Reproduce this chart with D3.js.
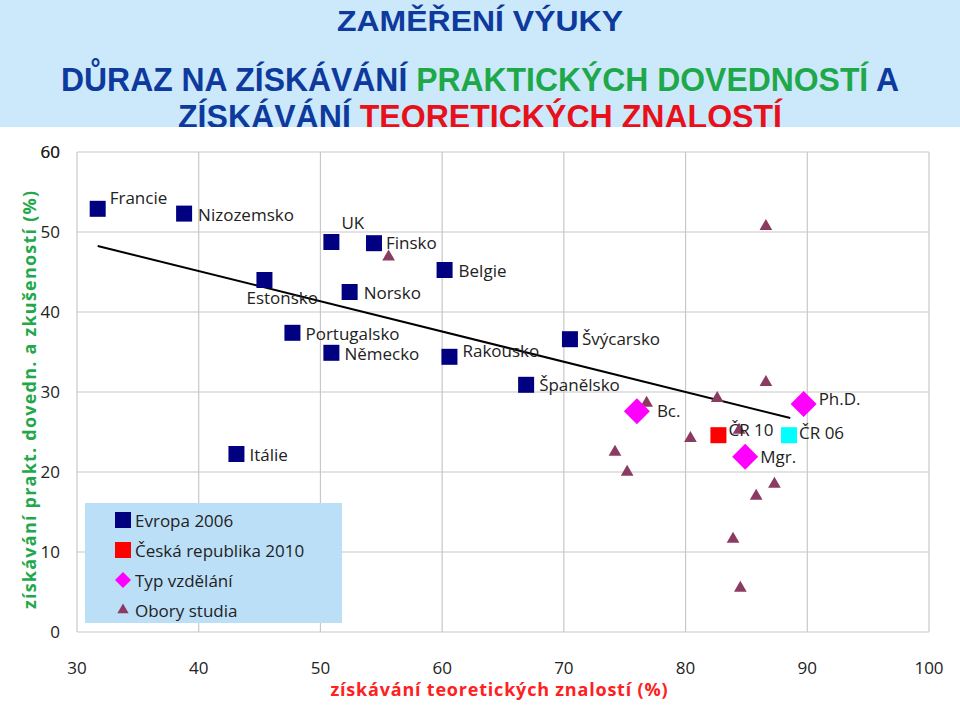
<!DOCTYPE html>
<html><head><meta charset="utf-8">
<script src="https://cdn.jsdelivr.net/npm/d3@7"></script>
<style>body{margin:0;background:#fff}svg{display:block}</style>
</head><body><svg id="c" width="960" height="707"></svg>
<script>
// --- data ---
const europeNames = ["Francie","Nizozemsko","UK","Finsko","Estonsko","Norsko","Belgie","Portugalsko","Německo","Rakousko","Švýcarsko","Španělsko","Itálie"];
const europeX = [31.7,38.8,50.9,54.4,45.4,52.4,60.2,47.7,50.9,60.6,70.5,66.9,43.1];
const europeY = [52.9,52.3,48.75,48.6,44.0,42.5,45.25,37.4,34.9,34.4,36.6,30.9,22.25];
const czNames = ["ČR 10","ČR 06"];
const czX = [82.7,88.5];
const czY = [24.6,24.6];
const eduNames = ["Bc.","Ph.D.","Mgr."];
const eduX = [76.0,89.7,84.9];
const eduY = [27.6,28.5,21.9];
const fieldX = [86.6,55.6,86.6,82.6,76.8,80.4,84.4,74.2,75.2,87.3,85.8,83.9,84.5];
const fieldY = [50.7,46.9,31.2,29.2,28.6,24.2,25.25,22.5,20.0,18.5,17.0,11.6,5.5];
const trendX = [31.7,88.6];
const trendY = [48.25,26.75];
const xTicks = [30,40,50,60,70,80,90,100];
const yTicks = [0,10,20,30,40,50,60];

const svg = d3.select("#c");
const x = d3.scaleLinear().domain([30,100]).range([77,929]);
const y = d3.scaleLinear().domain([0,60]).range([632,152]);
const font = "'Open Sans', 'Noto Sans', sans-serif";

// grid
svg.append("g").selectAll("line.v").data(xTicks).join("line")
  .attr("x1",d=>x(d)).attr("x2",d=>x(d)).attr("y1",y(0)).attr("y2",y(60))
  .attr("stroke","#c8c8c8").attr("stroke-width",1.2);
svg.append("g").selectAll("line.h").data(yTicks).join("line")
  .attr("x1",x(30)).attr("x2",x(100)).attr("y1",d=>y(d)).attr("y2",d=>y(d))
  .attr("stroke","#c8c8c8").attr("stroke-width",1.2);

// axes ticks labels
svg.append("g").selectAll("text").data(xTicks).join("text")
  .attr("x",d=>x(d)).attr("y",674).attr("text-anchor","middle")
  .attr("font-family",font).attr("font-size",17).attr("fill","#222").text(d=>d);
svg.append("g").selectAll("text").data(yTicks).join("text")
  .attr("x",60).attr("y",d=>y(d)+6).attr("text-anchor","end")
  .attr("font-family",font).attr("font-size",17).attr("fill","#222").text(d=>d);

// axis titles
svg.append("text").attr("x",499).attr("y",696).attr("text-anchor","middle")
  .attr("font-family",font).attr("font-size",18).attr("font-weight","bold").attr("fill","#ff2020")
  .attr("textLength",337).text("získávání teoretických znalostí (%)");
svg.append("text").attr("transform","translate(36,400) rotate(-90)").attr("text-anchor","middle")
  .attr("font-family",font).attr("font-size",18).attr("font-weight","bold").attr("fill","#22a84a")
  .attr("textLength",418).text("získávání prakt. dovedn. a zkušeností (%)");

// trend line
svg.append("line").attr("x1",x(trendX[0])).attr("y1",y(trendY[0]))
  .attr("x2",x(trendX[1])).attr("y2",y(trendY[1])).attr("stroke","#000").attr("stroke-width",2);

const tri = d3.symbol().type(d3.symbolTriangle).size(70);
const dia = d=>`M0,-13L13,0L0,13L-13,0Z`;

// fields (triangles)
svg.append("g").selectAll("path").data(fieldX).join("path")
  .attr("d",tri).attr("transform",(d,i)=>`translate(${x(d)},${y(fieldY[i])})`).attr("fill","#8b3a62");

// europe squares
const eu = svg.append("g").selectAll("g").data(europeNames).join("g")
  .attr("transform",(d,i)=>`translate(${x(europeX[i])},${y(europeY[i])})`);
eu.append("rect").attr("x",-8).attr("y",-8).attr("width",16).attr("height",16).attr("fill","#000080");
const euLab = {"Francie":[12,-5],"Nizozemsko":[14,7],"UK":[10,-13],"Finsko":[12,6],"Estonsko":[-18,24],"Norsko":[14,7],"Belgie":[14,7],"Portugalsko":[13,7],"Německo":[13,7],"Rakousko":[13,0],"Švýcarsko":[12,6],"Španělsko":[13,6],"Itálie":[13,7]};
eu.append("text").attr("x",d=>euLab[d][0]).attr("y",d=>euLab[d][1])
  .attr("font-family",font).attr("font-size",17).attr("fill","#222").text(d=>d);

// czech
const czCol = ["#ff0000","#00ffff"];
const cz = svg.append("g").selectAll("g").data(czNames).join("g")
  .attr("transform",(d,i)=>`translate(${x(czX[i])},${y(czY[i])})`);
cz.append("rect").attr("x",-8).attr("y",-8).attr("width",16).attr("height",16).attr("fill",(d,i)=>czCol[i]);
cz.append("text").attr("x",10).attr("y",(d,i)=>i?4:1)
  .attr("font-family",font).attr("font-size",17).attr("fill","#222").text(d=>d);

// education diamonds
const ed = svg.append("g").selectAll("g").data(eduNames).join("g")
  .attr("transform",(d,i)=>`translate(${x(eduX[i])},${y(eduY[i])})`);
ed.append("path").attr("d",dia).attr("fill","#ff00ff");
ed.append("text").attr("x",(d,i)=>i==0?20:15).attr("y",(d,i)=>i==1?1:6)
  .attr("font-family",font).attr("font-size",17).attr("fill","#222").text(d=>d);

// legend
const lg = svg.append("g").attr("transform","translate(85,503)");
lg.append("rect").attr("width",257).attr("height",120).attr("fill","#bcdff8");
const lgNames = ["Evropa 2006","Česká republika 2010","Typ vzdělání","Obory studia"];
const lgRow = lg.selectAll("g").data(lgNames).join("g").attr("transform",(d,i)=>`translate(38,${17+i*30})`);
lgRow.each(function(d,i){
  const g = d3.select(this);
  if(i<2) g.append("rect").attr("x",-8).attr("y",-8).attr("width",16).attr("height",16).attr("fill",i?"#ff0000":"#000080");
  else if(i==2) g.append("path").attr("d","M0,-8L8,0L0,8L-8,0Z").attr("fill","#ff00ff");
  else g.append("path").attr("d",d3.symbol().type(d3.symbolTriangle).size(55)).attr("fill","#8b3a62");
});
lgRow.append("text").attr("x",12).attr("y",7).attr("font-family",font).attr("font-size",17).attr("fill","#222").text(d=>d);

// header
svg.append("rect").attr("width",960).attr("height",127).attr("fill","#cce9fb");
const hf = "'Liberation Sans Narrow', 'Liberation Sans', Arial, sans-serif";
svg.append("text").attr("x",480).attr("y",31).attr("text-anchor","middle").attr("font-family",hf)
  .attr("font-size",30).attr("font-weight","bold").attr("fill","#0d3a9c")
  .attr("textLength",286).attr("lengthAdjust","spacingAndGlyphs").text("ZAMĚŘENÍ VÝUKY");
const l1 = svg.append("text").attr("x",480).attr("y",91).attr("text-anchor","middle").attr("font-family",hf)
  .attr("font-size",33).attr("font-weight","bold")
  .attr("textLength",838).attr("lengthAdjust","spacingAndGlyphs");
l1.append("tspan").attr("fill","#0d3a9c").text("DŮRAZ NA ZÍSKÁVÁNÍ ");
l1.append("tspan").attr("fill","#1ea84a").text("PRAKTICKÝCH DOVEDNOSTÍ ");
l1.append("tspan").attr("fill","#0d3a9c").text("A");
const l2 = svg.append("text").attr("x",480).attr("y",128).attr("text-anchor","middle").attr("font-family",hf)
  .attr("font-size",33).attr("font-weight","bold")
  .attr("textLength",604).attr("lengthAdjust","spacingAndGlyphs");
l2.append("tspan").attr("fill","#0d3a9c").text("ZÍSKÁVÁNÍ ");
l2.append("tspan").attr("fill","#e8101a").text("TEORETICKÝCH ZNALOSTÍ");
// clip bottom of second line like reference
svg.append("rect").attr("y",127).attr("width",960).attr("height",20).attr("fill","#fff");
svg.append("text").attr("x",60).attr("y",y(60)+6).attr("text-anchor","end")
  .attr("font-family",font).attr("font-size",17).attr("fill","#222").text("60");
</script></body></html>
